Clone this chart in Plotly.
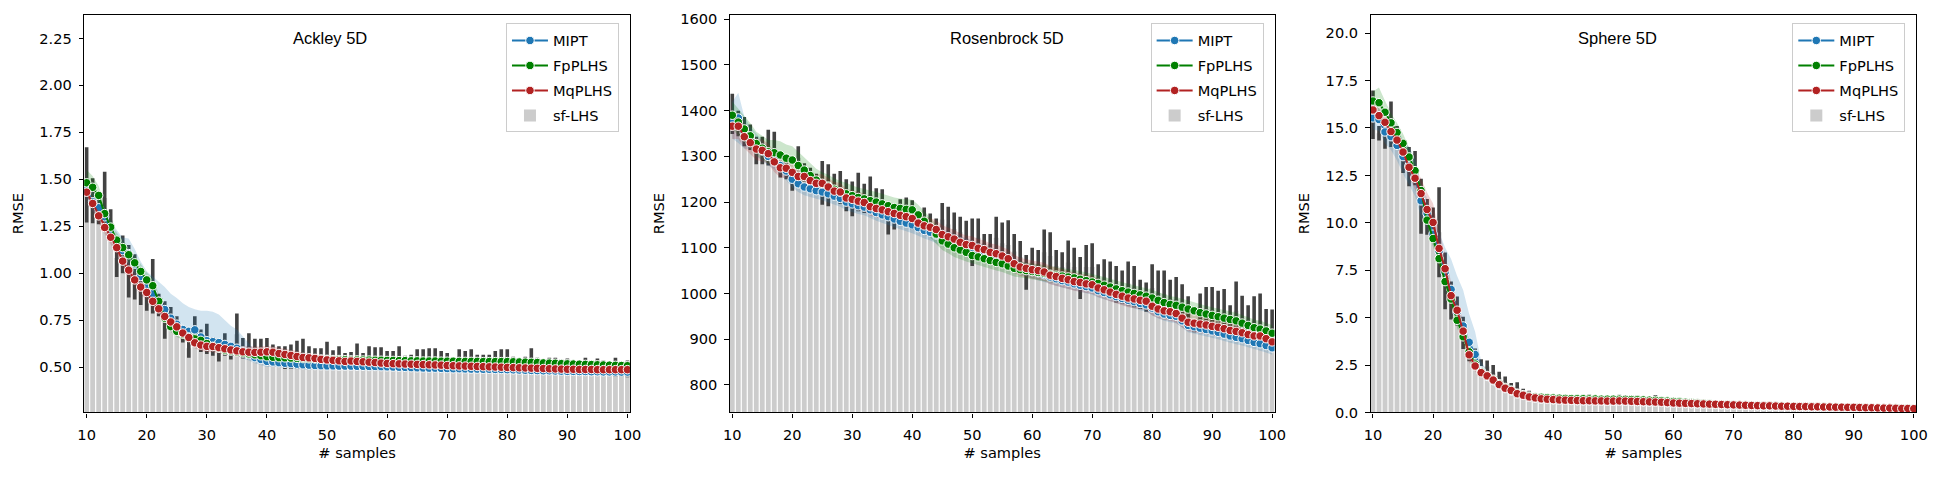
import plotly.graph_objects as go
from plotly.subplots import make_subplots

samples = list(range(10, 101))

# ---- Ackley 5D ----
ack_mipt = [1.440, 1.380, 1.348, 1.300, 1.230, 1.170, 1.120, 1.104, 1.048, 0.982,
            0.930, 0.892, 0.850, 0.806, 0.760, 0.728, 0.700, 0.690, 0.698, 0.660,
            0.640, 0.635, 0.630, 0.620, 0.610, 0.600, 0.585, 0.565, 0.550, 0.540,
            0.530, 0.527, 0.523, 0.520, 0.518, 0.515, 0.512, 0.510, 0.508, 0.507,
            0.506, 0.506, 0.505, 0.505, 0.505, 0.504, 0.504, 0.503, 0.503, 0.502,
            0.501, 0.500, 0.499, 0.498, 0.497, 0.496, 0.495, 0.494, 0.494, 0.493,
            0.492, 0.491, 0.491, 0.490, 0.489, 0.489, 0.488, 0.488, 0.487, 0.487,
            0.486, 0.485, 0.484, 0.483, 0.482, 0.481, 0.480, 0.480, 0.479, 0.478,
            0.477, 0.477, 0.476, 0.476, 0.475, 0.475, 0.474, 0.474, 0.474, 0.473, 0.473]
ack_fp = [1.481, 1.457, 1.414, 1.317, 1.245, 1.176, 1.136, 1.098, 1.055, 1.009,
          0.964, 0.933, 0.850, 0.760, 0.715, 0.690, 0.675, 0.660, 0.650, 0.642,
          0.625, 0.610, 0.600, 0.590, 0.585, 0.580, 0.575, 0.570, 0.565, 0.560,
          0.555, 0.552, 0.550, 0.549, 0.548, 0.546, 0.545, 0.544, 0.543, 0.542,
          0.541, 0.540, 0.540, 0.539, 0.538, 0.538, 0.537, 0.537, 0.536, 0.536,
          0.535, 0.535, 0.534, 0.534, 0.533, 0.533, 0.532, 0.532, 0.532, 0.531,
          0.531, 0.531, 0.530, 0.530, 0.530, 0.530, 0.529, 0.529, 0.529, 0.529,
          0.529, 0.528, 0.527, 0.526, 0.525, 0.524, 0.522, 0.521, 0.520, 0.518,
          0.517, 0.516, 0.515, 0.514, 0.513, 0.512, 0.511, 0.510, 0.509, 0.508, 0.507]
ack_mq = [1.431, 1.371, 1.305, 1.243, 1.191, 1.136, 1.064, 1.016, 0.964, 0.926,
          0.897, 0.850, 0.810, 0.769, 0.740, 0.714, 0.681, 0.657, 0.629, 0.617,
          0.610, 0.609, 0.603, 0.597, 0.591, 0.586, 0.581, 0.579, 0.578, 0.579,
          0.581, 0.579, 0.572, 0.567, 0.562, 0.556, 0.551, 0.549, 0.546, 0.541,
          0.538, 0.536, 0.533, 0.530, 0.532, 0.530, 0.528, 0.526, 0.524, 0.521,
          0.519, 0.518, 0.517, 0.516, 0.515, 0.514, 0.513, 0.512, 0.511, 0.510,
          0.508, 0.507, 0.506, 0.505, 0.504, 0.503, 0.502, 0.501, 0.500, 0.499,
          0.498, 0.497, 0.496, 0.495, 0.494, 0.493, 0.492, 0.491, 0.490, 0.489,
          0.488, 0.488, 0.487, 0.487, 0.487, 0.486, 0.486, 0.486, 0.486, 0.486, 0.486]
# band: distance below the mean, distance above the mean
ack_mipt_lo = [0.05, 0.05, 0.05, 0.05, 0.05, 0.05, 0.06, 0.06, 0.06, 0.06,
               0.05, 0.05, 0.05, 0.05, 0.05, 0.05, 0.05, 0.05, 0.05, 0.05,
               0.05, 0.05, 0.05, 0.05, 0.05, 0.04, 0.04, 0.03, 0.03, 0.03,
               0.03, 0.025, 0.025, 0.025, 0.025, 0.025, 0.025, 0.025, 0.025, 0.025,
               0.02, 0.02, 0.02, 0.02, 0.02, 0.02, 0.02, 0.02, 0.02, 0.02,
               0.02, 0.02, 0.02, 0.02, 0.02, 0.02, 0.02, 0.02, 0.02, 0.02,
               0.02, 0.02, 0.02, 0.02, 0.02, 0.02, 0.02, 0.02, 0.02, 0.02,
               0.015, 0.015, 0.015, 0.015, 0.015, 0.015, 0.015, 0.015, 0.015, 0.015,
               0.015, 0.015, 0.015, 0.015, 0.015, 0.015, 0.015, 0.015, 0.015, 0.015, 0.015]
ack_mipt_hi = [0.05, 0.05, 0.05, 0.05, 0.05, 0.06, 0.07, 0.08, 0.08, 0.08,
               0.08, 0.09, 0.10, 0.12, 0.13, 0.14, 0.14, 0.13, 0.11, 0.14,
               0.16, 0.16, 0.15, 0.13, 0.11, 0.10, 0.08, 0.06, 0.04, 0.03,
               0.03, 0.025, 0.025, 0.025, 0.025, 0.025, 0.025, 0.025, 0.025, 0.025,
               0.02, 0.02, 0.02, 0.02, 0.02, 0.02, 0.02, 0.02, 0.02, 0.02,
               0.02, 0.02, 0.02, 0.02, 0.02, 0.02, 0.02, 0.02, 0.02, 0.02,
               0.02, 0.02, 0.02, 0.02, 0.02, 0.02, 0.02, 0.02, 0.02, 0.02,
               0.015, 0.015, 0.015, 0.015, 0.015, 0.015, 0.015, 0.015, 0.015, 0.015,
               0.015, 0.015, 0.015, 0.015, 0.015, 0.015, 0.015, 0.015, 0.015, 0.015, 0.015]
ack_fp_band = [0.07, 0.06, 0.05, 0.05, 0.04, 0.04, 0.04, 0.04, 0.04, 0.04,
               0.04, 0.04, 0.04, 0.03, 0.03, 0.03, 0.03, 0.03, 0.03, 0.03,
               0.03, 0.02, 0.02, 0.02, 0.02, 0.02, 0.02, 0.02, 0.02, 0.02,
               0.02, 0.02, 0.02, 0.02, 0.02, 0.02, 0.02, 0.02, 0.02, 0.02,
               0.015, 0.015, 0.015, 0.015, 0.015, 0.015, 0.015, 0.015, 0.015, 0.015,
               0.015, 0.015, 0.015, 0.015, 0.015, 0.015, 0.015, 0.015, 0.015, 0.015,
               0.015, 0.015, 0.015, 0.015, 0.015, 0.015, 0.015, 0.015, 0.015, 0.015,
               0.015, 0.015, 0.015, 0.015, 0.015, 0.015, 0.015, 0.015, 0.015, 0.015,
               0.015, 0.015, 0.015, 0.015, 0.015, 0.015, 0.015, 0.015, 0.015, 0.015, 0.015]
ack_mq_band = [0.04, 0.04, 0.04, 0.04, 0.04, 0.04, 0.04, 0.04, 0.04, 0.04,
               0.04, 0.03, 0.03, 0.03, 0.03, 0.03, 0.03, 0.03, 0.03, 0.03,
               0.03, 0.03, 0.03, 0.03, 0.03, 0.03, 0.03, 0.03, 0.03, 0.03,
               0.03, 0.03, 0.03, 0.03, 0.03, 0.03, 0.025, 0.02, 0.02, 0.02,
               0.015, 0.015, 0.015, 0.015, 0.015, 0.015, 0.015, 0.015, 0.015, 0.015,
               0.015, 0.015, 0.015, 0.015, 0.015, 0.015, 0.015, 0.015, 0.015, 0.015,
               0.015, 0.015, 0.015, 0.015, 0.015, 0.015, 0.015, 0.015, 0.015, 0.015,
               0.015, 0.015, 0.015, 0.015, 0.015, 0.015, 0.015, 0.015, 0.015, 0.015,
               0.015, 0.015, 0.015, 0.015, 0.015, 0.015, 0.015, 0.015, 0.015, 0.015, 0.015]
ack_sf = [1.47, 1.385, 1.33, 1.40, 1.28, 1.08, 1.10, 1.01, 0.98, 0.93,
          0.87, 0.93, 0.83, 0.75, 0.76, 0.72, 0.67, 0.60, 0.70, 0.64,
          0.65, 0.61, 0.58, 0.62, 0.58, 0.675, 0.60, 0.61, 0.60, 0.60,
          0.60, 0.57, 0.56, 0.55, 0.555, 0.565, 0.57, 0.55, 0.545, 0.545,
          0.56, 0.54, 0.55, 0.53, 0.535, 0.555, 0.53, 0.55, 0.545, 0.545,
          0.535, 0.535, 0.545, 0.52, 0.52, 0.535, 0.535, 0.54, 0.54, 0.53,
          0.525, 0.51, 0.535, 0.53, 0.535, 0.52, 0.52, 0.52, 0.53, 0.535,
          0.535, 0.515, 0.51, 0.515, 0.535, 0.51, 0.505, 0.51, 0.51, 0.505,
          0.505, 0.50, 0.50, 0.505, 0.495, 0.50, 0.495, 0.49, 0.50, 0.485, 0.49]
ack_sf_err = [0.20, 0.12, 0.07, 0.14, 0.06, 0.10, 0.10, 0.14, 0.12, 0.10,
              0.07, 0.145, 0.06, 0.10, 0.06, 0.05, 0.04, 0.05, 0.07, 0.06,
              0.08, 0.05, 0.05, 0.06, 0.04, 0.11, 0.055, 0.07, 0.05, 0.05,
              0.055, 0.05, 0.05, 0.06, 0.065, 0.075, 0.08, 0.06, 0.055, 0.055,
              0.075, 0.05, 0.06, 0.045, 0.045, 0.07, 0.045, 0.06, 0.06, 0.06,
              0.05, 0.05, 0.065, 0.04, 0.045, 0.06, 0.06, 0.06, 0.06, 0.055,
              0.05, 0.035, 0.06, 0.055, 0.06, 0.045, 0.045, 0.045, 0.055, 0.06,
              0.06, 0.04, 0.035, 0.04, 0.065, 0.04, 0.035, 0.04, 0.04, 0.035,
              0.04, 0.035, 0.035, 0.045, 0.035, 0.045, 0.04, 0.035, 0.05, 0.035, 0.045]

# ---- Rosenbrock 5D ----
ros_mipt = [1379, 1384, 1352, 1340, 1325, 1312, 1300, 1292, 1280, 1268,
            1250, 1240, 1233, 1229, 1225, 1222, 1218, 1213, 1208, 1200,
            1196, 1192, 1189, 1183, 1177, 1172, 1168, 1163, 1158, 1154,
            1150, 1144, 1138, 1134, 1128, 1122, 1118, 1113, 1108, 1103,
            1100, 1095, 1091, 1086, 1082, 1078, 1073, 1064, 1056, 1052,
            1048, 1045, 1041, 1036, 1032, 1028, 1025, 1021, 1018, 1015,
            1012, 1006, 1002, 997, 993, 989, 985, 982, 978, 975,
            968, 960, 955, 952, 950, 940, 930, 927, 924, 921,
            918, 915, 911, 907, 904, 901, 897, 893, 890, 886, 881]
ros_fp = [1390, 1375, 1360, 1345, 1328, 1318, 1310, 1308, 1303, 1296,
          1292, 1280, 1270, 1258, 1248, 1240, 1235, 1228, 1222, 1218,
          1214, 1210, 1207, 1203, 1200, 1196, 1192, 1188, 1186, 1184,
          1183, 1172, 1158, 1145, 1130, 1115, 1108, 1100, 1095, 1090,
          1083, 1080, 1076, 1072, 1068, 1065, 1060, 1055, 1052, 1050,
          1048, 1046, 1044, 1042, 1040, 1038, 1036, 1034, 1031, 1028,
          1025, 1022, 1018, 1014, 1010, 1006, 1003, 1000, 997, 994,
          990, 985, 980, 976, 974, 970, 966, 962, 958, 955,
          952, 949, 946, 943, 940, 935, 930, 925, 922, 918, 913]
ros_mq = [1366, 1366, 1343, 1330, 1316, 1313, 1306, 1288, 1275, 1274,
          1265, 1256, 1256, 1247, 1241, 1241, 1233, 1224, 1222, 1209,
          1206, 1202, 1199, 1190, 1186, 1183, 1179, 1175, 1171, 1168,
          1164, 1154, 1148, 1145, 1140, 1129, 1124, 1119, 1112, 1107,
          1105, 1099, 1096, 1090, 1087, 1082, 1076, 1065, 1058, 1055,
          1052, 1050, 1047, 1040, 1037, 1033, 1030, 1026, 1024, 1021,
          1019, 1012, 1008, 1003, 998, 994, 990, 988, 985, 983,
          972, 966, 962, 960, 956, 946, 937, 935, 933, 931,
          928, 926, 923, 919, 917, 914, 910, 907, 907, 901, 894]
ros_mipt_band = [40, 55, 35, 25, 25, 22, 20, 20, 20, 20,
                 18, 18, 18, 18, 18, 18, 18, 18, 18, 18,
                 18, 18, 18, 18, 18, 18, 18, 18, 18, 18,
                 18, 18, 18, 18, 18, 18, 18, 18, 18, 18,
                 15, 15, 15, 15, 15, 15, 15, 15, 15, 15,
                 15, 15, 15, 15, 15, 15, 15, 15, 15, 15,
                 15, 15, 15, 15, 15, 15, 15, 15, 15, 15,
                 15, 15, 15, 15, 15, 15, 15, 15, 15, 15,
                 15, 15, 15, 15, 15, 15, 15, 15, 15, 15, 15]
ros_fp_band = [30, 30, 28, 28, 26, 26, 26, 28, 30, 30,
               30, 30, 28, 26, 25, 25, 25, 24, 24, 24,
               22, 22, 22, 22, 22, 22, 22, 22, 22, 22,
               22, 22, 22, 22, 22, 20, 20, 20, 20, 20,
               18, 18, 18, 18, 18, 18, 18, 18, 18, 18,
               18, 18, 18, 18, 18, 18, 18, 18, 18, 18,
               18, 18, 18, 18, 18, 18, 18, 18, 18, 18,
               18, 18, 18, 18, 18, 18, 18, 18, 18, 18,
               18, 18, 18, 18, 18, 18, 18, 18, 18, 18, 18]
ros_mq_band = [28, 28, 25, 25, 24, 24, 22, 22, 22, 22,
               20, 20, 20, 20, 20, 20, 20, 20, 20, 20,
               20, 20, 20, 20, 20, 20, 20, 20, 20, 20,
               20, 20, 20, 20, 20, 20, 20, 20, 20, 20,
               20, 20, 20, 20, 20, 20, 20, 20, 20, 20,
               20, 20, 20, 20, 20, 20, 20, 20, 20, 20,
               20, 20, 20, 20, 20, 20, 20, 20, 20, 20,
               20, 20, 20, 20, 20, 20, 20, 20, 20, 20,
               20, 20, 20, 20, 20, 20, 20, 20, 20, 20, 20]
ros_sf = [1393, 1372, 1354, 1342, 1313, 1313, 1319, 1318, 1272, 1275,
          1244, 1297, 1265, 1250, 1240, 1242, 1237, 1234, 1232, 1215,
          1207, 1222, 1208, 1216, 1200, 1196, 1162, 1168, 1178, 1180,
          1172, 1158, 1162, 1150, 1142, 1162, 1151, 1141, 1134, 1120,
          1112, 1122, 1110, 1108, 1122, 1110, 1106, 1092, 1080, 1046,
          1070, 1065, 1090, 1082, 1060, 1058, 1068, 1058, 1034, 1058,
          1058, 1032, 1035, 1030, 1020, 1014, 1022, 1015, 998, 992,
          1012, 1001, 999, 988, 988, 978, 962, 925, 961, 966,
          964, 958, 958, 938, 962, 945, 932, 940, 941, 922, 920]
ros_sf_err = [44, 28, 32, 28, 30, 30, 39, 36, 18, 25,
              19, 25, 20, 25, 22, 48, 46, 28, 36, 35,
              38, 42, 32, 40, 30, 32, 33, 28, 28, 30,
              32, 22, 26, 25, 22, 36, 39, 36, 34, 39,
              52, 42, 20, 22, 46, 45, 54, 38, 35, 38,
              30, 30, 50, 52, 35, 32, 48, 42, 46, 48,
              52, 32, 40, 40, 40, 36, 48, 45, 32, 32,
              52, 49, 51, 42, 48, 42, 32, 10, 39, 48,
              50, 48, 52, 36, 64, 50, 42, 54, 59, 44, 45]

# ---- Sphere 5D ----
sph_mipt = [15.53, 15.44, 14.79, 14.54, 14.08, 13.49, 13.00, 12.40, 11.16, 10.50,
            9.40, 8.50, 7.40, 6.49, 5.30, 4.56, 3.70, 3.06, 2.20, 1.90,
            1.68, 1.45, 1.26, 1.14, 0.98, 0.90, 0.81, 0.76, 0.71, 0.69,
            0.67, 0.65, 0.64, 0.63, 0.62, 0.61, 0.61, 0.60, 0.60, 0.59,
            0.59, 0.59, 0.59, 0.58, 0.57, 0.56, 0.55, 0.54, 0.53, 0.51,
            0.49, 0.48, 0.47, 0.46, 0.45, 0.44, 0.43, 0.42, 0.41, 0.40,
            0.39, 0.38, 0.37, 0.36, 0.35, 0.34, 0.34, 0.33, 0.32, 0.32,
            0.31, 0.30, 0.30, 0.29, 0.29, 0.28, 0.28, 0.27, 0.27, 0.26,
            0.26, 0.25, 0.24, 0.24, 0.23, 0.22, 0.22, 0.21, 0.20, 0.20, 0.19]
sph_fp = [16.42, 16.33, 15.83, 15.27, 14.76, 14.19, 13.47, 12.75, 11.70, 10.14,
          9.17, 8.11, 6.90, 5.98, 4.86, 3.99, 3.20, 2.55, 2.15, 1.95,
          1.75, 1.52, 1.32, 1.18, 1.02, 0.94, 0.86, 0.82, 0.80, 0.78,
          0.76, 0.75, 0.74, 0.73, 0.72, 0.72, 0.71, 0.71, 0.70, 0.70,
          0.70, 0.70, 0.69, 0.68, 0.67, 0.66, 0.65, 0.64, 0.62, 0.60,
          0.58, 0.56, 0.54, 0.52, 0.50, 0.48, 0.46, 0.44, 0.43, 0.42,
          0.41, 0.40, 0.39, 0.38, 0.37, 0.36, 0.35, 0.35, 0.34, 0.33,
          0.33, 0.32, 0.31, 0.31, 0.30, 0.30, 0.29, 0.29, 0.28, 0.28,
          0.27, 0.27, 0.26, 0.25, 0.25, 0.24, 0.24, 0.23, 0.22, 0.22, 0.21]
sph_mq = [15.95, 15.65, 15.30, 14.81, 14.36, 13.73, 12.93, 12.35, 11.54, 10.70,
          10.02, 8.65, 7.58, 6.16, 5.39, 4.29, 3.04, 2.45, 2.10, 1.93,
          1.71, 1.47, 1.28, 1.16, 0.99, 0.91, 0.82, 0.77, 0.72, 0.70,
          0.68, 0.66, 0.65, 0.64, 0.63, 0.62, 0.62, 0.61, 0.61, 0.60,
          0.60, 0.61, 0.60, 0.59, 0.58, 0.57, 0.56, 0.55, 0.54, 0.52,
          0.50, 0.49, 0.48, 0.47, 0.46, 0.45, 0.44, 0.43, 0.42, 0.41,
          0.40, 0.39, 0.38, 0.37, 0.36, 0.35, 0.35, 0.34, 0.33, 0.33,
          0.32, 0.31, 0.31, 0.30, 0.30, 0.29, 0.29, 0.28, 0.28, 0.27,
          0.27, 0.26, 0.25, 0.25, 0.24, 0.23, 0.23, 0.22, 0.21, 0.21, 0.20]
sph_mipt_lo = [0.6, 0.6, 0.6, 0.7, 0.8, 0.9, 1.0, 1.0, 0.9, 0.8,
               0.5, 0.5, 0.5, 0.5, 0.5, 0.5, 0.5, 0.4, 0.3, 0.2,
               0.2, 0.15, 0.12, 0.1, 0.1, 0.08, 0.08, 0.06, 0.06, 0.06,
               0.05, 0.05, 0.05, 0.05, 0.05, 0.05, 0.05, 0.05, 0.05, 0.05,
               0.05, 0.05, 0.05, 0.05, 0.05, 0.05, 0.05, 0.05, 0.05, 0.05,
               0.05, 0.05, 0.05, 0.05, 0.05, 0.05, 0.05, 0.05, 0.05, 0.05,
               0.04, 0.04, 0.04, 0.04, 0.04, 0.04, 0.04, 0.04, 0.04, 0.04,
               0.04, 0.04, 0.04, 0.04, 0.04, 0.04, 0.04, 0.04, 0.04, 0.04,
               0.04, 0.04, 0.04, 0.04, 0.04, 0.04, 0.04, 0.04, 0.04, 0.04, 0.04]
sph_mipt_hi = [0.6, 0.6, 0.6, 0.7, 0.8, 0.9, 1.0, 1.0, 0.9, 0.8,
               0.8, 1.0, 1.3, 1.6, 1.9, 1.9, 1.5, 1.2, 0.5, 0.3,
               0.2, 0.15, 0.12, 0.1, 0.1, 0.08, 0.08, 0.06, 0.06, 0.06,
               0.05, 0.05, 0.05, 0.05, 0.05, 0.05, 0.05, 0.05, 0.05, 0.05,
               0.05, 0.05, 0.05, 0.05, 0.05, 0.05, 0.05, 0.05, 0.05, 0.05,
               0.05, 0.05, 0.05, 0.05, 0.05, 0.05, 0.05, 0.05, 0.05, 0.05,
               0.04, 0.04, 0.04, 0.04, 0.04, 0.04, 0.04, 0.04, 0.04, 0.04,
               0.04, 0.04, 0.04, 0.04, 0.04, 0.04, 0.04, 0.04, 0.04, 0.04,
               0.04, 0.04, 0.04, 0.04, 0.04, 0.04, 0.04, 0.04, 0.04, 0.04, 0.04]
sph_fp_band = [0.5, 0.8, 0.6, 0.5, 0.5, 0.5, 0.5, 0.5, 0.4, 0.4,
               0.4, 0.4, 0.4, 0.4, 0.4, 0.4, 0.4, 0.3, 0.2, 0.15,
               0.12, 0.1, 0.1, 0.08, 0.08, 0.08, 0.08, 0.08, 0.08, 0.08,
               0.06, 0.06, 0.06, 0.06, 0.06, 0.06, 0.06, 0.06, 0.06, 0.06,
               0.06, 0.06, 0.06, 0.06, 0.06, 0.06, 0.06, 0.06, 0.06, 0.06,
               0.05, 0.05, 0.05, 0.05, 0.05, 0.05, 0.04, 0.04, 0.04, 0.04,
               0.04, 0.04, 0.04, 0.04, 0.04, 0.04, 0.04, 0.04, 0.04, 0.04,
               0.04, 0.04, 0.04, 0.04, 0.04, 0.04, 0.04, 0.04, 0.04, 0.04,
               0.04, 0.04, 0.04, 0.04, 0.04, 0.04, 0.04, 0.04, 0.04, 0.04, 0.04]
sph_mq_band = [0.4, 0.4, 0.4, 0.4, 0.4, 0.4, 0.5, 0.6, 0.8, 0.9,
               1.0, 0.9, 0.8, 0.7, 0.6, 0.5, 0.4, 0.3, 0.2, 0.15,
               0.1, 0.1, 0.08, 0.08, 0.06, 0.06, 0.06, 0.05, 0.05, 0.05,
               0.05, 0.05, 0.05, 0.05, 0.05, 0.05, 0.05, 0.05, 0.05, 0.05,
               0.05, 0.05, 0.05, 0.05, 0.05, 0.05, 0.05, 0.05, 0.05, 0.05,
               0.04, 0.04, 0.04, 0.04, 0.04, 0.04, 0.04, 0.04, 0.04, 0.04,
               0.04, 0.04, 0.04, 0.04, 0.04, 0.04, 0.04, 0.04, 0.04, 0.04,
               0.04, 0.04, 0.04, 0.04, 0.04, 0.04, 0.04, 0.04, 0.04, 0.04,
               0.04, 0.04, 0.04, 0.04, 0.04, 0.04, 0.04, 0.04, 0.04, 0.04, 0.04]
sph_sf = [15.70, 14.72, 14.67, 15.20, 14.50, 13.35, 12.96, 12.88, 10.87, 10.31,
          10.00, 9.50, 6.94, 5.90, 5.35, 4.20, 3.30, 2.87, 2.45, 2.42,
          2.10, 1.85, 1.60, 1.35, 1.30, 1.10, 1.00, 0.90, 0.85, 0.80,
          0.78, 0.72, 0.70, 0.70, 0.68, 0.70, 0.75, 0.68, 0.66, 0.66,
          0.68, 0.72, 0.72, 0.70, 0.70, 0.66, 0.66, 0.72, 0.66, 0.60,
          0.58, 0.56, 0.54, 0.52, 0.50, 0.48, 0.46, 0.44, 0.43, 0.42,
          0.41, 0.40, 0.39, 0.38, 0.37, 0.36, 0.36, 0.35, 0.34, 0.34,
          0.33, 0.32, 0.32, 0.31, 0.31, 0.30, 0.30, 0.29, 0.29, 0.28,
          0.28, 0.27, 0.26, 0.26, 0.25, 0.25, 0.24, 0.23, 0.23, 0.22, 0.22]
sph_sf_err = [1.28, 0.38, 0.77, 1.20, 0.60, 0.73, 1.03, 0.90, 1.45, 0.94,
              0.80, 2.37, 1.50, 1.00, 0.77, 0.85, 0.60, 0.50, 0.35, 0.32,
              0.40, 0.30, 0.30, 0.20, 0.30, 0.15, 0.15, 0.10, 0.10, 0.12,
              0.10, 0.12, 0.10, 0.12, 0.10, 0.14, 0.20, 0.12, 0.12, 0.10,
              0.15, 0.22, 0.20, 0.20, 0.20, 0.10, 0.12, 0.20, 0.12, 0.08,
              0.08, 0.08, 0.08, 0.07, 0.07, 0.06, 0.05, 0.05, 0.04, 0.04,
              0.04, 0.03, 0.03, 0.03, 0.03, 0.03, 0.03, 0.03, 0.02, 0.02,
              0.02, 0.02, 0.02, 0.02, 0.02, 0.02, 0.02, 0.02, 0.02, 0.02,
              0.02, 0.02, 0.02, 0.02, 0.02, 0.02, 0.02, 0.02, 0.02, 0.02, 0.02]

FONT = "DejaVu Sans"
FSIZE = 14.6
colors = {"MIPT": "#1f77b4", "FpPLHS": "#008000", "MqPLHS": "#b22222"}
band_colors = {"MIPT": "rgba(31,119,180,0.2)", "FpPLHS": "rgba(0,128,0,0.2)",
               "MqPLHS": "rgba(178,34,34,0.2)"}

panels = [
    dict(title="Ackley 5D", title_x=0.45, yrange=[0.258, 2.376], dtick=0.25, tick0=0.5, fmt=".2f",
         sf=ack_sf, sf_err=ack_sf_err,
         lines=[("MIPT", ack_mipt, ack_mipt_lo, ack_mipt_hi),
                ("FpPLHS", ack_fp, ack_fp_band, ack_fp_band),
                ("MqPLHS", ack_mq, ack_mq_band, ack_mq_band)]),
    dict(title="Rosenbrock 5D", title_x=0.508, yrange=[739.5, 1610], dtick=100, tick0=800, fmt="d",
         sf=ros_sf, sf_err=ros_sf_err,
         lines=[("MIPT", ros_mipt, ros_mipt_band, ros_mipt_band),
                ("FpPLHS", ros_fp, ros_fp_band, ros_fp_band),
                ("MqPLHS", ros_mq, ros_mq_band, ros_mq_band)]),
    dict(title="Sphere 5D", title_x=0.452, yrange=[0, 20.97], dtick=2.5, tick0=0, fmt=".1f",
         sf=sph_sf, sf_err=sph_sf_err,
         lines=[("MIPT", sph_mipt, sph_mipt_lo, sph_mipt_hi),
                ("FpPLHS", sph_fp, sph_fp_band, sph_fp_band),
                ("MqPLHS", sph_mq, sph_mq_band, sph_mq_band)]),
]

x_domains = [[78 / 1949, 629 / 1949], [730 / 1949, 1280 / 1949], [1377 / 1949, 1928 / 1949]]
y_domain = [1 - 419 / 478, 1 - 11 / 478]

fig = make_subplots(rows=1, cols=3)

for i, p in enumerate(panels):
    col = i + 1
    leg = "legend" if i == 0 else "legend%d" % col
    fig.add_trace(go.Bar(x=samples, y=p["sf"], width=0.8, name="sf-LHS",
                         marker=dict(color="#cccccc", line=dict(width=0)),
                         error_y=dict(type="data", array=p["sf_err"], color="#424242",
                                      thickness=3.6, width=0),
                         legend=leg, legendrank=4, legendgroup="sf%d" % col), row=1, col=col)
    for name, mean, below, above in p["lines"]:
        lo = [m - b for m, b in zip(mean, below)]
        hi = [m + a for m, a in zip(mean, above)]
        fig.add_trace(go.Scatter(x=samples + samples[::-1], y=hi + lo[::-1], fill="toself",
                                 fillcolor=band_colors[name], line=dict(width=0),
                                 mode="lines", hoverinfo="skip", showlegend=False),
                      row=1, col=col)
    for rank, (name, mean, below, above) in enumerate(p["lines"]):
        fig.add_trace(go.Scatter(x=samples, y=mean, mode="lines+markers", name=name,
                                 line=dict(color=colors[name], width=2),
                                 marker=dict(size=8.5, color=colors[name],
                                             line=dict(color="white", width=1)),
                                 legend=leg, legendrank=rank + 1,
                                 legendgroup="%s%d" % (name, col)), row=1, col=col)

    axis_common = dict(showline=True, linecolor="black", linewidth=1.1, mirror=True,
                       ticks="outside", ticklen=4.5, tickwidth=1.1, tickcolor="black",
                       ticklabelstandoff=4, showgrid=False, zeroline=False,
                       tickfont=dict(family=FONT, size=FSIZE, color="black"))
    fig.update_xaxes(axis_common, domain=x_domains[i], range=[9.6, 100.4], tick0=10, dtick=10,
                     title=dict(text="# samples", standoff=6,
                                font=dict(family=FONT, size=FSIZE, color="black")),
                     row=1, col=col)
    fig.update_yaxes(axis_common, domain=y_domain, range=p["yrange"], tick0=p["tick0"],
                     dtick=p["dtick"], tickformat=p["fmt"],
                     title=dict(text="RMSE", standoff=12,
                                font=dict(family=FONT, size=FSIZE, color="black")),
                     row=1, col=col)

    # legend box sits 11 px inside the right spine, 9 px under the top spine
    fig.update_layout({leg: dict(x=x_domains[i][1] - 11 / 1949, y=1 - 20 / 478,
                                 xanchor="right", yanchor="top",
                                 bgcolor="rgba(255,255,255,0.8)", bordercolor="#cccccc",
                                 borderwidth=1, traceorder="grouped", tracegroupgap=3,
                                 itemwidth=36,
                                 font=dict(family=FONT, size=FSIZE, color="black"))})

    xref = "x domain" if i == 0 else "x%d domain" % col
    yref = "y domain" if i == 0 else "y%d domain" % col
    fig.add_annotation(text=p["title"], x=p["title_x"], y=(419 - 35) / 408, xref=xref, yref=yref,
                       xanchor="center", yanchor="middle", showarrow=False,
                       font=dict(family="Liberation Sans", size=16.5, color="black"))

fig.update_layout(width=1949, height=478, margin=dict(l=0, r=0, t=0, b=0),
                  plot_bgcolor="white", paper_bgcolor="white", barmode="overlay")

fig.write_html("out.html", config={"displayModeBar": False},
               post_script="document.body.style.margin='0';")
